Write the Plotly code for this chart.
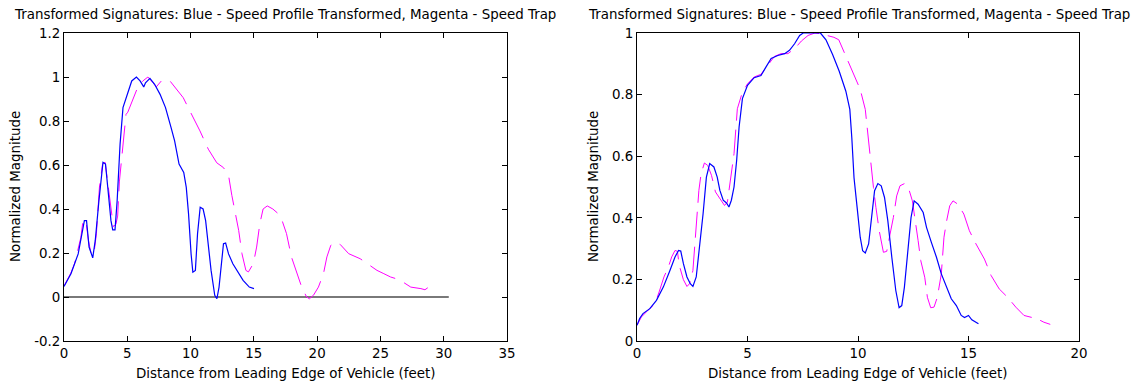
"""
Transformed signatures: speed profile (blue) vs speed trap (magenta)
"""
import plotly.graph_objects as go

# ---- left panel data ----
blue_left_x = [0, 0.55, 1.12, 1.41, 1.61, 1.78, 1.98, 2.27, 2.47, 2.76,
               3.08, 3.28, 3.48, 3.71, 3.85, 4.03, 4.2, 4.43, 4.66, 5.0,
               5.35, 5.72, 6.01, 6.3, 6.44, 6.79, 7.16, 7.59, 8.02, 8.46,
               8.74, 9.09, 9.46, 9.66, 9.84, 10.04, 10.18, 10.38, 10.55, 10.76,
               10.99, 11.19, 11.39, 11.62, 11.91, 12.08, 12.25, 12.42, 12.6, 12.77,
               13.0, 13.34, 13.78, 14.15, 14.64, 15.01]
blue_left_y = [0.048, 0.106, 0.196, 0.287, 0.347, 0.347, 0.227, 0.178, 0.257, 0.438,
               0.612, 0.604, 0.498, 0.347, 0.305, 0.305, 0.438, 0.695, 0.861, 0.921,
               0.982, 1.0, 0.982, 0.955, 0.974, 0.994, 0.967, 0.921, 0.861, 0.770,
               0.710, 0.604, 0.566, 0.498, 0.378, 0.196, 0.113, 0.121, 0.287, 0.408,
               0.400, 0.347, 0.242, 0.121, 0.008, -0.008, 0.045, 0.151, 0.242, 0.245,
               0.196, 0.151, 0.113, 0.076, 0.045, 0.038]

magenta_left_x = [0, 0.26, 0.55, 0.83, 1.1, 1.33, 1.5, 1.73, 1.93, 2.13,
                  2.35, 2.56, 2.8, 3.05, 3.25, 3.5, 3.71, 3.9, 4.1, 4.24,
                  4.38, 4.5, 4.64, 4.9, 5.04, 5.49, 5.76, 6.23, 6.63, 7.03,
                  7.29, 7.69, 8.09, 8.4, 8.75, 9.42, 9.95, 10.74, 11.4, 12.07,
                  12.6, 13.0, 13.26, 13.53, 13.8, 14.06, 14.37, 14.57, 14.96, 15.22,
                  15.47, 15.73, 16.06, 16.5, 16.92, 17.18, 17.58, 17.97, 18.38, 18.78,
                  19.17, 19.39, 19.71, 20.1, 20.5, 20.77, 21.08, 21.43, 21.82, 22.14,
                  22.49, 23.4, 23.93, 24.34, 24.73, 25.27, 25.8, 26.48, 27.4, 28.2,
                  28.52, 28.74]
magenta_left_y = [0.05, 0.076, 0.11, 0.151, 0.21, 0.27, 0.347, 0.347, 0.257, 0.2,
                  0.19, 0.287, 0.5, 0.605, 0.612, 0.498, 0.393, 0.32, 0.33, 0.368,
                  0.527, 0.6, 0.68, 0.83, 0.84, 0.906, 0.944, 0.982, 1.0, 0.974,
                  0.955, 0.982, 0.99, 0.98, 0.953, 0.906, 0.845, 0.755, 0.672, 0.61,
                  0.588, 0.553, 0.462, 0.379, 0.303, 0.197, 0.121, 0.114, 0.152, 0.227,
                  0.333, 0.40, 0.414, 0.40, 0.379, 0.356, 0.288, 0.182, 0.114, 0.045,
                  0.0, -0.008, 0.008, 0.045, 0.106, 0.182, 0.235, 0.25, 0.239, 0.22,
                  0.197, 0.174, 0.152, 0.136, 0.121, 0.106, 0.091, 0.079, 0.045, 0.038,
                  0.033, 0.042]

zero_line_x = [0, 30.4]
zero_line_y = [0, 0]

# ---- right panel data ----
blue_right_x = [0, 0.12, 0.27, 0.58, 0.88, 1.19, 1.49, 1.72, 1.88, 1.98,
                2.1, 2.26, 2.41, 2.53, 2.68, 2.84, 2.99, 3.14, 3.29, 3.48,
                3.63, 3.75, 3.9, 4.05, 4.16, 4.27, 4.39, 4.51, 4.62, 4.77,
                5.0, 5.3, 5.61, 5.84, 6.07, 6.37, 6.68, 6.9, 7.13, 7.36,
                7.52, 8.3, 8.55, 8.85, 9.15, 9.45, 9.63, 9.72, 9.82, 9.96,
                10.1, 10.21, 10.33, 10.48, 10.63, 10.75, 10.9, 11.05, 11.2, 11.35,
                11.53, 11.71, 11.86, 11.98, 12.1, 12.25, 12.4, 12.54, 12.72, 12.95,
                13.1, 13.32, 13.55, 13.77, 14.0, 14.22, 14.45, 14.67, 14.82, 15.0,
                15.15, 15.45]
blue_right_y = [0.051, 0.073, 0.089, 0.105, 0.132, 0.175, 0.229, 0.273, 0.294, 0.292,
                0.251, 0.208, 0.186, 0.177, 0.208, 0.305, 0.413, 0.532, 0.576, 0.565,
                0.532, 0.489, 0.457, 0.448, 0.435, 0.457, 0.5, 0.587, 0.695, 0.787,
                0.83, 0.855, 0.862, 0.89, 0.917, 0.927, 0.933, 0.944, 0.965, 0.992,
                1.0, 1.0, 0.978, 0.93, 0.876, 0.811, 0.752, 0.66, 0.53, 0.434,
                0.337, 0.293, 0.286, 0.315, 0.412, 0.488, 0.511, 0.504, 0.466, 0.39,
                0.272, 0.164, 0.108, 0.115, 0.175, 0.283, 0.401, 0.455, 0.444, 0.417,
                0.369, 0.32, 0.272, 0.218, 0.175, 0.137, 0.115, 0.083, 0.076, 0.083,
                0.069, 0.056]

magenta_right_x = [0, 0.2, 0.5, 0.81, 1.0, 1.22, 1.42, 1.57, 1.72, 1.83,
                   1.91, 2.1, 2.26, 2.38, 2.53, 2.59, 2.71, 2.8, 2.9, 3.05,
                   3.2, 3.37, 3.55, 3.86, 3.96, 4.09, 4.24, 4.39, 4.54, 4.77,
                   5.0, 5.3, 5.61, 5.91, 6.22, 6.52, 6.83, 7.13, 7.44, 7.74,
                   8.05, 8.28, 8.91, 9.13, 9.43, 9.81, 10.1, 10.33, 10.48, 10.6,
                   10.7, 10.81, 10.96, 11.15, 11.3, 11.45, 11.6, 11.75, 11.9, 12.1,
                   12.28, 12.46, 12.6, 12.72, 12.84, 13.02, 13.14, 13.29, 13.44, 13.59,
                   13.77, 13.89, 14.01, 14.15, 14.3, 14.52, 14.79, 15.04, 15.34, 15.72,
                   16.02, 16.39, 16.77, 17.14, 17.51, 18.11, 18.41, 18.7]
magenta_right_y = [0.051, 0.078, 0.1, 0.121, 0.159, 0.208, 0.24, 0.273, 0.294, 0.291,
                   0.246, 0.199, 0.177, 0.186, 0.229, 0.294, 0.392, 0.489, 0.543, 0.578,
                   0.57, 0.538, 0.484, 0.451, 0.44, 0.451, 0.532, 0.608, 0.754, 0.808,
                   0.835, 0.857, 0.866, 0.895, 0.924, 0.933, 0.933, 0.949, 0.974, 0.992,
                   1.0, 0.998, 0.986, 0.978, 0.93, 0.867, 0.817, 0.752, 0.649, 0.547,
                   0.498, 0.434, 0.358, 0.288, 0.291, 0.347, 0.401, 0.471, 0.504, 0.511,
                   0.498, 0.455, 0.39, 0.326, 0.261, 0.207, 0.142, 0.108, 0.11, 0.142,
                   0.218, 0.337, 0.39, 0.439, 0.455, 0.444, 0.412, 0.358, 0.315, 0.266,
                   0.213, 0.169, 0.142, 0.11, 0.083, 0.072, 0.061, 0.054]

# ---- ticks and text ----
left_xticks = [0, 5, 10, 15, 20, 25, 30, 35]
left_yticks = [-0.2, 0, 0.2, 0.4, 0.6, 0.8, 1.0, 1.2]
left_ylabels = ["-0.2", "0", "0.2", "0.4", "0.6", "0.8", "1", "1.2"]
right_xticks = [0, 5, 10, 15, 20]
right_yticks = [0, 0.2, 0.4, 0.6, 0.8, 1.0]
right_ylabels = ["0", "0.2", "0.4", "0.6", "0.8", "1"]

title_text = "Transformed Signatures: Blue - Speed Profile Transformed, Magenta - Speed Trap"
xlabel_text = "Distance from Leading Edge of Vehicle (feet)"
ylabel_text = "Normalized Magnitude"

FONT = "DejaVu Sans, Verdana, sans-serif"
FS = 13.4

# the page body puts the figure 8px in from the top-left corner
OFF_X, OFF_Y = 8, 8
W, H = 1147 - OFF_X, 386 - OFF_Y


def px_x(p):
    return (p - OFF_X) / W


def px_y(p):
    return (H - (p - OFF_Y)) / H


# screen-pixel frames of the two axes boxes
left_box = (64, 507)
right_box = (637, 1079)
top_px, bottom_px = 33, 341

fig = go.Figure()

# left panel
fig.add_scatter(x=zero_line_x, y=zero_line_y, mode="lines",
                line=dict(color="#4d4d4d", width=1.5), xaxis="x", yaxis="y")
fig.add_scatter(x=magenta_left_x, y=magenta_left_y, mode="lines",
                line=dict(color="#ff00ff", width=1, dash="28px,10px"), xaxis="x", yaxis="y")
fig.add_scatter(x=blue_left_x, y=blue_left_y, mode="lines",
                line=dict(color="#0000ff", width=1.2), xaxis="x", yaxis="y")

# right panel
fig.add_scatter(x=magenta_right_x, y=magenta_right_y, mode="lines",
                line=dict(color="#ff00ff", width=1, dash="26px,9px"), xaxis="x2", yaxis="y2")
fig.add_scatter(x=blue_right_x, y=blue_right_y, mode="lines",
                line=dict(color="#0000ff", width=1.2), xaxis="x2", yaxis="y2")

# automargin off so the boxes stay exactly where the domains put them
axis_style = dict(showline=True, linecolor="black", linewidth=1, mirror="ticks",
                  ticks="inside", ticklen=5, tickcolor="black", showgrid=False,
                  zeroline=False, automargin=False,
                  tickfont=dict(family=FONT, size=FS, color="black"))

ydom = [px_y(bottom_px), px_y(top_px)]

fig.update_layout(
    width=W, height=H,
    margin=dict(l=0, r=0, t=0, b=0, pad=0),
    paper_bgcolor="white", plot_bgcolor="white",
    showlegend=False,
    font=dict(family=FONT, size=FS, color="black"),
    xaxis=dict(axis_style, domain=[px_x(left_box[0]), px_x(left_box[1])], range=[0, 35],
               tickvals=left_xticks, anchor="y"),
    yaxis=dict(axis_style, domain=ydom, range=[-0.2, 1.2],
               tickvals=left_yticks, ticktext=left_ylabels, anchor="x"),
    xaxis2=dict(axis_style, domain=[px_x(right_box[0]), px_x(right_box[1])], range=[0, 20],
                tickvals=right_xticks, anchor="y2"),
    yaxis2=dict(axis_style, domain=ydom, range=[0, 1],
                tickvals=right_yticks, ticktext=right_ylabels, anchor="x2"),
)

# titles and axis labels placed as annotations in pixel space
for (x0, x1), title_cx, ylab_x in [(left_box, 285, 16), (right_box, 859, 594)]:
    cx = (x0 + x1) / 2
    fig.add_annotation(text=title_text, x=px_x(title_cx), y=px_y(15), xref="paper", yref="paper",
                       showarrow=False, xanchor="center", yanchor="middle")
    fig.add_annotation(text=xlabel_text, x=px_x(cx), y=px_y(373), xref="paper", yref="paper",
                       showarrow=False, xanchor="center", yanchor="middle")
    fig.add_annotation(text=ylabel_text, x=px_x(ylab_x), y=px_y((top_px + bottom_px) / 2),
                       xref="paper", yref="paper", showarrow=False, textangle=-90,
                       xanchor="center", yanchor="middle")

fig.write_html("out.html")
